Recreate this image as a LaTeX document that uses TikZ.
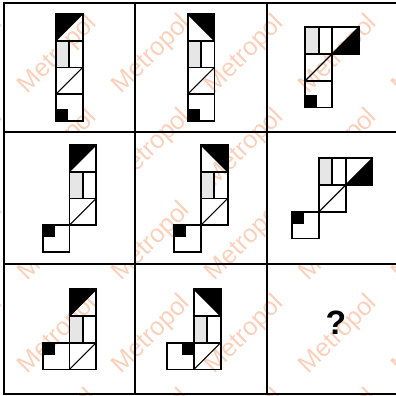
\documentclass[tikz,border=0pt]{standalone}
\usepackage{fontspec}
\setmainfont{Liberation Sans}
\usepackage{tikz}
\definecolor{markOrange}{RGB}{251,208,186}
\definecolor{paleGray}{RGB}{230,230,230}

% one tile = unit square, (#1,#2) = top-left corner in px
\newcommand{\sqBlackUL}[2]{\begin{scope}[shift={(#1,#2)}, scale=26.7]
  \fill[black] (0,0) -- (1,0) -- (0,1) -- cycle;
  \draw[diagline] (0,1) -- (1,0);
  \draw[piece] (0,0) rectangle (1,1);
\end{scope}}
\newcommand{\sqBlackUR}[2]{\begin{scope}[shift={(#1,#2)}, scale=26.7]
  \fill[black] (0,0) -- (1,0) -- (1,1) -- cycle;
  \draw[diagline] (0,0) -- (1,1);
  \draw[piece] (0,0) rectangle (1,1);
\end{scope}}
\newcommand{\sqBlackLR}[2]{\begin{scope}[shift={(#1,#2)}, scale=26.7]
  \fill[black] (0,1) -- (1,1) -- (1,0) -- cycle;
  \draw[diagline] (0,1) -- (1,0);
  \draw[piece] (0,0) rectangle (1,1);
\end{scope}}
\newcommand{\sqSplit}[2]{\begin{scope}[shift={(#1,#2)}, scale=26.7]
  \fill[paleGray] (0,0) rectangle (0.5,1);
  \draw[piece] (0.5,0) -- (0.5,1);
  \draw[piece] (0,0) rectangle (1,1);
\end{scope}}
\newcommand{\sqDiag}[2]{\begin{scope}[shift={(#1,#2)}, scale=26.7]
  \draw[diagline] (0,1) -- (1,0);
  \draw[piece] (0,0) rectangle (1,1);
\end{scope}}
\newcommand{\sqDot}[3]{\begin{scope}[shift={(#1,#2)}, scale=26.7]
  \fill[black] #3 rectangle ++(0.45,0.45);
  \draw[piece] (0,0) rectangle (1,1);
\end{scope}}

\begin{document}
\begin{tikzpicture}[
  x=0.25mm, y=-0.25mm,
  piece/.style={draw=black, line width=1.25pt},
  diagline/.style={draw=black, line width=0.8pt},
  frameline/.style={draw=black, line width=1.4pt},
  wmtext/.style={text=markOrange, rotate=45, inner sep=0pt, font=\fontsize{18pt}{18pt}\selectfont},
  question/.style={inner sep=0pt, font=\bfseries\fontsize{24pt}{24pt}\selectfont}
]
  \useasboundingbox (0,0) rectangle (396,396);

  % watermark
  \begin{scope}
    \clip (0,0) rectangle (396,396);
    \foreach \i in {-1,...,4}
      \foreach \j in {-1,...,4}
        \node[wmtext] (wm\i\j) at ({58+93.5*\i},{55+93.3*\j}) {Metropol};
  \end{scope}
  \fill[white] (4,132.3) rectangle (135,264);
  \fill[white] (267,132.3) rectangle (398,264);

  % row 1
  \sqBlackUL{56}{14} \sqSplit{56}{40.7} \sqDiag{56}{67.4} \sqDot{56}{94.1}{(0,0.55)}
  \sqBlackUR{187.7}{14} \sqSplit{187.7}{40.7} \sqDiag{187.7}{67.4} \sqDot{187.7}{94.1}{(0,0.55)}
  \sqSplit{305.3}{27.3} \sqBlackLR{332}{27.3} \sqDiag{305.3}{54} \sqDot{305.3}{80.7}{(0,0.55)}

  % row 2
  \sqBlackUL{69.5}{145} \sqSplit{69.5}{171.7} \sqDiag{69.5}{198.4} \sqDot{42.8}{225.1}{(0,0)}
  \sqBlackUR{201}{145} \sqSplit{201}{171.7} \sqDiag{201}{198.4} \sqDot{174.3}{225.1}{(0,0)}
  \sqSplit{319}{158.3} \sqBlackLR{345.7}{158.3} \sqDiag{319}{185} \sqDot{292.3}{211.7}{(0,0)}

  % row 3
  \sqBlackUL{69.5}{289.3} \sqSplit{69.5}{316} \sqDiag{69.5}{342.7} \sqDot{42.8}{342.7}{(0,0)}
  \sqBlackUR{194}{289.3} \sqSplit{194}{316} \sqDiag{194}{342.7} \sqDot{167.3}{342.7}{(0.55,0)}
  \node[question] (ask) at (336,322.5) {?};

  % grid
  \draw[frameline] (4,2.7) rectangle (398,394.3);
  \draw[frameline] (135,2.7) -- (135,394.3);
  \draw[frameline] (267,2.7) -- (267,394.3);
  \draw[frameline] (4,132.3) -- (398,132.3);
  \draw[frameline] (4,264) -- (398,264);
\end{tikzpicture}
\end{document}
